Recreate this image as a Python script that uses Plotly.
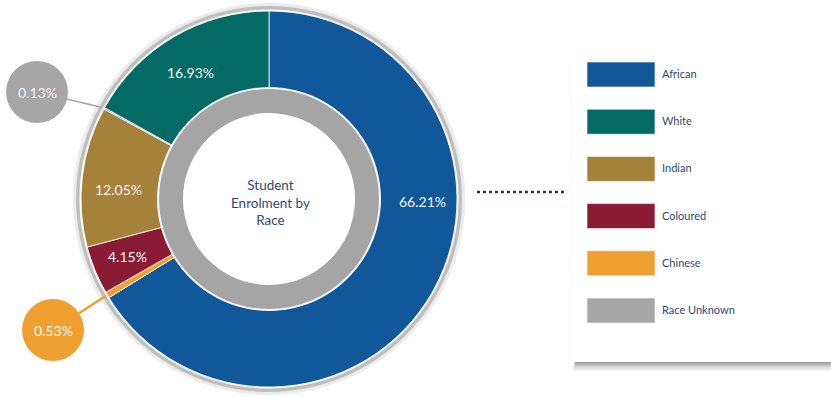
import plotly.graph_objects as go
import math

# ---------------- data ----------------
categories = ["African", "Chinese", "Coloured", "Indian", "Race Unknown", "White"]
percentages = [66.21, 0.53, 4.15, 12.05, 0.13, 16.93]
colors = ["#11589a", "#f0a030", "#891b36", "#a4823a", "#a6a6a6", "#046a65"]
legend_order = ["African", "White", "Indian", "Coloured", "Chinese", "Race Unknown"]
center_title = "Student<br>Enrolment by<br>Race"

# ---------------- layout constants ----------------
W, H = 831, 397
CX, CY = 269, 199          # donut centre in px (from top-left)
R_SHADOW, R_BORDER, R_OUT, R_RING, R_IN = 196, 193, 188, 110, 86
FONT = "Lato, 'Open Sans', sans-serif"
NAVY = "#2f4775"

def px(x):
    return x / W

def py(y):
    return 1 - y / H

def domain(r):
    return dict(x=[px(CX - r), px(CX + r)], y=[py(CY + r), py(CY - r)])

def note(x, y, text, size, color, xanchor="center"):
    return dict(x=px(x), y=py(y), xref="paper", yref="paper", text=text,
                showarrow=False, xanchor=xanchor, yanchor="middle", align="center",
                font=dict(family=FONT, size=size, color=color))

fig = go.Figure()

# soft shadow + outer light-grey border ring
fig.add_trace(go.Pie(values=[1], marker=dict(colors=["#ececec"]), hole=(R_BORDER - 1) / R_SHADOW,
                     domain=domain(R_SHADOW), textinfo="none", hoverinfo="skip",
                     showlegend=False, sort=False))
fig.add_trace(go.Pie(values=[1], marker=dict(colors=["#bfbfbf"]), hole=(R_OUT + 1.5) / R_BORDER,
                     domain=domain(R_BORDER), textinfo="none", hoverinfo="skip",
                     showlegend=False, sort=False))

# main donut
fig.add_trace(go.Pie(labels=categories, values=percentages,
                     marker=dict(colors=colors, line=dict(color="white", width=0.8)),
                     hole=(R_RING + 1.5) / R_OUT, domain=domain(R_OUT),
                     sort=False, direction="clockwise", rotation=0,
                     textinfo="none", hoverinfo="label+value", showlegend=False))

# inner grey ring
fig.add_trace(go.Pie(values=[1], marker=dict(colors=["#a5a5a5"]), hole=R_IN / R_RING,
                     domain=domain(R_RING), textinfo="none", hoverinfo="skip",
                     showlegend=False, sort=False))

shapes = []
annotations = []

# centre title
annotations.append(note(CX + 1, CY + 3, center_title, 13.5, NAVY))

# slice labels (positions are style constants)
label_pos = {"African": (422, 201), "White": (190, 72), "Indian": (118, 189),
             "Coloured": (127, 256)}
callout_pos = {"Race Unknown": (37, 92), "Chinese": (53, 330)}
callout_width = {"Race Unknown": 1.5, "Chinese": 2.5}

cum = 0.0
total = sum(percentages)
for cat, val, col in zip(categories, percentages, colors):
    mid = (cum + val / 2) / total * 2 * math.pi
    cum += val
    txt = f"{val:.2f}%"
    if cat in label_pos:
        x, y = label_pos[cat]
        annotations.append(note(x, y, txt, 14, "#f4f4f4"))
    else:
        ccx, ccy = callout_pos[cat]
        ex = CX + (R_OUT + 2) * math.sin(mid)
        ey = CY - (R_OUT + 2) * math.cos(mid)
        shapes.append(dict(type="line", xref="paper", yref="paper",
                           x0=px(ccx), y0=py(ccy), x1=px(ex), y1=py(ey),
                           line=dict(color=col, width=callout_width[cat]), layer="above"))
        shapes.append(dict(type="circle", xref="paper", yref="paper",
                           xsizemode="pixel", ysizemode="pixel",
                           xanchor=px(ccx), yanchor=py(ccy),
                           x0=-31, x1=31, y0=-31, y1=31,
                           fillcolor=col, line=dict(width=0), layer="above"))
        annotations.append(note(ccx, ccy, txt, 14, "#f4f4f4"))

# dotted connector
shapes.append(dict(type="line", xref="paper", yref="paper", x0=px(477), x1=px(566),
                   y0=py(192), y1=py(192),
                   line=dict(color="#1f3864", width=2.5, dash="dot"), layer="above"))

# legend panel with soft shadow (mostly below)
BX0, BY0, BX1, BY1 = 572, 42, 845, 362
shapes.append(dict(type="rect", xref="paper", yref="paper",
                   x0=px(BX0 - 1), x1=px(BX1), y0=py(BY1), y1=py(BY0 + 20),
                   fillcolor="rgba(0,0,0,0.025)", line=dict(width=0), layer="below"))
for i, a in enumerate([0.03, 0.045, 0.06, 0.08, 0.1, 0.12]):
    d = 6 - i
    shapes.append(dict(type="rect", xref="paper", yref="paper",
                       x0=px(BX0 + 4 - d * 0.5), x1=px(BX1),
                       y0=py(BY1 + d * 1.6), y1=py(BY1 - 5),
                       fillcolor=f"rgba(0,0,0,{a})", line=dict(width=0), layer="below"))
shapes.append(dict(type="rect", xref="paper", yref="paper",
                   x0=px(BX0), x1=px(BX1), y0=py(BY1), y1=py(BY0),
                   fillcolor="white", line=dict(width=0), layer="below"))

color_of = dict(zip(categories, colors))
SW_X0, SW_X1, SW_Y0, SW_H, SW_STEP = 587, 655, 62, 25, 47.2
for i, cat in enumerate(legend_order):
    y0 = SW_Y0 + i * SW_STEP
    shapes.append(dict(type="rect", xref="paper", yref="paper",
                       x0=px(SW_X0), x1=px(SW_X1), y0=py(y0 + SW_H), y1=py(y0),
                       fillcolor=color_of[cat], line=dict(width=0.6, color="#ffffff"),
                       layer="above"))
    annotations.append(note(SW_X1 + 5, y0 + SW_H / 2 - 1, cat, 11, NAVY, xanchor="left"))

fig.update_layout(width=W, height=H, margin=dict(l=0, r=0, t=0, b=0),
                  paper_bgcolor="white", plot_bgcolor="white",
                  shapes=shapes, annotations=annotations, showlegend=False)

fig.write_html("out.html", config={"displayModeBar": False},
               post_script="document.body.style.margin='0';document.body.style.overflow='hidden';")
